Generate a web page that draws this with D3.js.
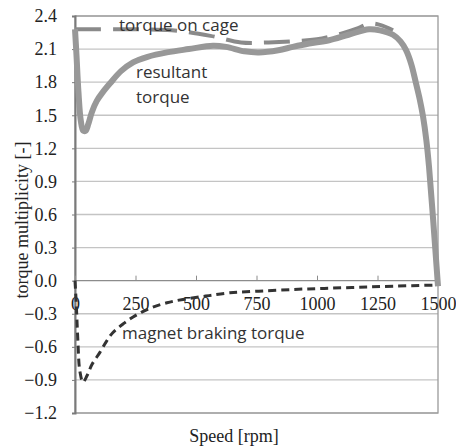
<!DOCTYPE html>
<html><head><meta charset="utf-8">
<script src="https://cdn.jsdelivr.net/npm/d3@7"></script>
<style>body{margin:0;background:#fff}</style>
</head><body><svg id="c" width="456" height="448"></svg>
<script>
const yTicks = [-1.2,-0.9,-0.6,-0.3,0.0,0.3,0.6,0.9,1.2,1.5,1.8,2.1,2.4];
const xTicks = [0,250,500,750,1000,1250,1500];
const resultantRpm = [0,6,14,24,34,44,55,70,90,115,145,190,240,300,380,470,570,624,700,760,840,900,967,1050,1130,1215,1260,1314,1345,1368,1390,1409,1425,1438,1452,1463,1480,1500];
const resultantVal = [2.28,2.05,1.72,1.45,1.36,1.36,1.42,1.53,1.63,1.71,1.79,1.90,1.98,2.03,2.07,2.10,2.13,2.12,2.08,2.07,2.09,2.12,2.15,2.18,2.23,2.28,2.27,2.23,2.17,2.09,1.96,1.79,1.64,1.49,1.27,1.03,0.55,-0.05];
const cageRpm = [0,200,400,560,686,800,900,1000,1100,1170,1215,1260,1314];
const cageVal = [2.28,2.28,2.27,2.22,2.16,2.16,2.17,2.19,2.24,2.29,2.33,2.32,2.27];
const magnetRpm = [0,5,12,20,33,50,70,103,130,157,200,240,280,322,380,446,540,640,760,900,1030,1173,1320,1490];
const magnetVal = [0,-0.2,-0.55,-0.82,-0.92,-0.86,-0.76,-0.65,-0.55,-0.47,-0.39,-0.33,-0.28,-0.24,-0.2,-0.17,-0.14,-0.11,-0.095,-0.08,-0.07,-0.06,-0.05,-0.04];
const labels = ["torque on cage","resultant","torque","magnet braking torque"];

const svg = d3.select("#c");
const L=75,R=438,T=16,B=413;
const x = d3.scaleLinear().domain([0,1500]).range([L,R]);
const y = d3.scaleLinear().domain([-1.2,2.4]).range([B,T]);

svg.append("g").selectAll("line").data(yTicks).join("line")
  .attr("x1",L).attr("x2",R).attr("y1",d=>y(d)).attr("y2",d=>y(d))
  .attr("stroke",d=>d===0?"#8c8c8c":"#c4c4c4").attr("stroke-width",1.3);
svg.append("rect").attr("x",L).attr("y",T).attr("width",R-L).attr("height",B-T)
  .attr("fill","none").attr("stroke","#9a9a9a").attr("stroke-width",1.3);

const ya = svg.append("g").attr("transform",`translate(${L},0)`)
  .call(d3.axisLeft(y).tickValues(yTicks).tickFormat(d3.format(".1f")).tickSize(3).tickPadding(15));
ya.select(".domain").attr("stroke","#7a7a7a").attr("stroke-width",2);
ya.selectAll(".tick line").attr("stroke","#7a7a7a");
ya.selectAll("text").attr("font-family","Liberation Serif").attr("font-size",18).attr("fill","#222");

const xa = svg.append("g").attr("transform",`translate(0,${y(0)})`)
  .call(d3.axisBottom(x).tickValues(xTicks).tickFormat(d3.format("d")).tickSizeInner(-5).tickSizeOuter(0).tickPadding(17));
xa.select(".domain").remove();
xa.selectAll(".tick line").attr("stroke","#8c8c8c");
xa.selectAll("text").attr("font-family","Liberation Serif").attr("font-size",18).attr("fill","#222");

const lineC = d3.line().x(d=>x(d[0])).y(d=>y(d[1])).curve(d3.curveCatmullRom);

svg.append("path").datum(cageRpm.map((r,i)=>[r,cageVal[i]])).attr("d",lineC)
  .attr("fill","none").attr("stroke","#8a8a8a").attr("stroke-width",4).attr("stroke-dasharray","26,12");
svg.append("path").datum(resultantRpm.map((r,i)=>[r,resultantVal[i]])).attr("d",lineC)
  .attr("fill","none").attr("stroke","#989898").attr("stroke-width",6).attr("stroke-linejoin","round");
svg.append("path").datum(magnetRpm.map((r,i)=>[r,magnetVal[i]])).attr("d",lineC)
  .attr("fill","none").attr("stroke","#333").attr("stroke-width",3).attr("stroke-dasharray","8,5");

const tf = "Open Sans";
svg.append("text").attr("x",119).attr("y",31).text(labels[0]).attr("font-family",tf).attr("font-size",17).attr("fill","#333");
svg.append("text").attr("x",136).attr("y",78).text(labels[1]).attr("font-family",tf).attr("font-size",17).attr("fill","#333");
svg.append("text").attr("x",136).attr("y",103).text(labels[2]).attr("font-family",tf).attr("font-size",17).attr("fill","#333");
svg.append("text").attr("x",122).attr("y",339).text(labels[3]).attr("font-family",tf).attr("font-size",17).attr("fill","#333");

svg.append("text").attr("x",234).attr("y",442).attr("text-anchor","middle").text("Speed [rpm]")
  .attr("font-family","Liberation Serif").attr("font-size",18).attr("fill","#222");
svg.append("text").attr("transform","translate(28,220) rotate(-90)").attr("text-anchor","middle")
  .text("torque multiplicity [-]").attr("font-family","Liberation Serif").attr("font-size",18).attr("fill","#222");
</script></body></html>
